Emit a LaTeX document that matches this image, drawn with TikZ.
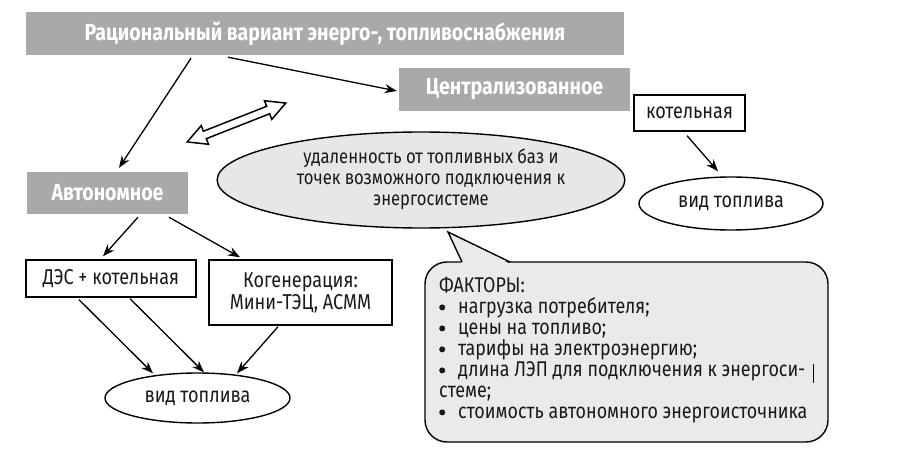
\documentclass[tikz,border=0pt]{standalone}
\usepackage{fontspec}
\setmainfont{Fira Sans}[FakeStretch=0.84]
\usetikzlibrary{arrows.meta,shapes.geometric}
\definecolor{boxgray}{RGB}{169,169,169}
\definecolor{ellgray}{RGB}{231,231,231}
\definecolor{callgray}{RGB}{234,234,234}
\definecolor{inkc}{RGB}{25,25,25}
\newcommand{\bulit}{\makebox[19pt][l]{\raisebox{3.2pt}{\tikz\fill[inkc] (0pt,0pt) circle[radius=3pt];}}}
\tikzset{
  gbox/.style={fill=boxgray, text=white, font=\fontsize{23.3}{26}\selectfont\bfseries, inner sep=0pt},
  wbox/.style={draw, line width=1.4pt, fill=white, text=inkc, font=\fontsize{21.5}{22}\selectfont, inner sep=0pt, align=center},
  oval/.style={ellipse, draw, line width=1.4pt, text=inkc, font=\fontsize{21.5}{22}\selectfont, inner sep=0pt, align=center},
  arr/.style={line width=1.3pt, -{Stealth[length=12pt,width=9pt]}},
}
\begin{document}
\begin{tikzpicture}[x=1pt,y=-1pt]
\useasboundingbox (0,0) rectangle (899,457);
% gray boxes
\node[gbox, minimum width=598pt, minimum height=43pt] (title) at (325,33.5) {Рациональный вариант энерго-, топливоснабжения};
\node[gbox, minimum width=231pt, minimum height=43pt] (centr) at (514.5,89.5) {Централизованное};
\node[gbox, minimum width=161pt, minimum height=42pt] (avt) at (107.5,193) {Автономное};
% white boxes
\node[wbox, minimum width=111pt, minimum height=36pt] (kot) at (689.5,113) {котельная};
\node[wbox, minimum width=170pt, minimum height=37pt] (des) at (111,278.5) {ДЭС + котельная};
\node[wbox, minimum width=183pt, minimum height=65pt] (kog) at (300.5,292.5) {Когенерация:\\Мини-ТЭЦ, АСММ};
% ellipses
\node[oval, fill=ellgray, minimum width=407pt, minimum height=96pt, font=\fontsize{19.8}{21}\selectfont] (remote) at (421,180)
  {\begin{tabular}{@{\hspace{20pt}}c@{}}удаленность от топливных баз и\\точек возможного подключения к\\энергосистеме\end{tabular}};
\node[oval, fill=white, minimum width=184pt, minimum height=53pt] (fuelR) at (731,203.5) {вид топлива};
\node[oval, fill=white, minimum width=185pt, minimum height=50pt] (fuelB) at (197.5,398) {вид топлива};
% arrows
\draw[arr] ([shift={(-134,3)}]title.south) -- ([shift={(11.5,-4)}]avt.north);
\draw[arr] ([shift={(-97,2)}]title.south) -- ([shift={(-2,1.5)}]centr.west);
\draw[arr] ([shift={(30.5,3)}]avt.south) -- ([shift={(-8,-3)}]des.north);
\draw[arr] ([shift={(61.5,3)}]avt.south) -- ([shift={(-60.5,-2)}]kog.north);
\draw[arr] ([shift={(-32,2)}]des.south) -- ([shift={(-44.5,1)}]fuelB.north);
\draw[arr] ([shift={(19,1)}]des.south) -- ([shift={(6.5,0)}]fuelB.north);
\draw[arr] ([shift={(-22.5,1)}]kog.south) -- ([shift={(39.5,1)}]fuelB.north);
\draw[arr] ([shift={(-2.5,4)}]kot.south) -- ([shift={(-13,-5)}]fuelR.north);
% hollow double arrow between the two variants
\begin{scope}[shift={(236.5,122.5)}, rotate=21.5]
\draw[line width=1.5pt, fill=white, line join=miter] (-53,0) -- (-34,10) -- (-34,4) -- (34,4) -- (34,10) -- (53,0) -- (34,-10) -- (34,-4) -- (-34,-4) -- (-34,-10) -- cycle;
\end{scope}
% callout
\node[draw, line width=1.4pt, fill=callgray, rounded corners=22pt, minimum width=403pt, minimum height=180pt, inner sep=0pt] (call) at (626.5,352) {};
\coordinate (tailL) at (462,262);
\coordinate (tailR) at (510,262);
\coordinate (tailT) at (448,232);
\fill[callgray] ([shift={(0,2)}]tailL) -- (tailT) -- ([shift={(0,2)}]tailR) -- cycle;
\draw[line width=1.4pt, line join=miter] (tailL) -- (tailT) -- (tailR);
\node[anchor=north west, align=left, inner sep=0pt, text=inkc, font=\fontsize{21.3}{21}\selectfont] (factors) at (439,277) {ФАКТОРЫ:\\
\bulit нагрузка потребителя;\\
\bulit цены на топливо;\\
\bulit тарифы на электроэнергию;\\
\bulit длина ЛЭП для подключения к энергоси-\\
стеме;\\
\bulit стоимость автономного энергоисточника};
\coordinate (curT) at (813,364);
\coordinate (curB) at (813,383);
\draw[line width=0.6pt] (curT) -- (curB);
\end{tikzpicture}
\end{document}
